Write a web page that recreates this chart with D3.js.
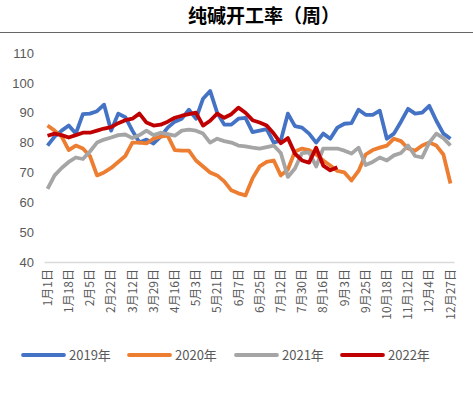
<!DOCTYPE html>
<html>
<head>
<meta charset="utf-8">
<script src="https://cdnjs.cloudflare.com/ajax/libs/d3/7.8.5/d3.min.js"></script>
<style>
  body { margin: 0; background: #fff; }
  text { font-family: "Noto Sans CJK SC", "Liberation Sans", sans-serif; }
</style>
</head>
<body>
<div id="chart"></div>
<script>
var categories = [
  "1月1日","1月7日","1月12日","1月18日","1月24日","1月30日","2月5日","2月11日","2月16日","2月22日",
  "2月28日","3月6日","3月12日","3月18日","3月23日","3月29日","4月4日","4月10日","4月16日","4月22日",
  "4月27日","5月3日","5月9日","5月15日","5月21日","5月27日","6月1日","6月7日","6月13日","6月19日",
  "6月25日","7月1日","7月6日","7月12日","7月18日","7月24日","7月30日","8月5日","8月10日","8月16日",
  "8月22日","8月28日","9月3日","9月10日","9月17日","9月25日","10月3日","10月10日","10月18日","10月26日",
  "11月3日","11月12日","11月19日","11月27日","12月4日","12月12日","12月19日","12月27日"
];
var tickLabels = ["1月1日","1月18日","2月5日","2月22日","3月12日","3月29日","4月16日","5月3日","5月21日","6月7日",
  "6月25日","7月12日","7月30日","8月16日","9月3日","9月25日","10月18日","11月12日","12月4日","12月27日"];
var yTicks = [40, 50, 60, 70, 80, 90, 100, 110];

var s2019 = [79,82,84,85.7,83,89.5,89.7,90.5,92.7,84,89.7,88.5,84,80,81,79.7,82,85,87,88,
  91,88,94.7,97.3,90,86,86,88,88.3,83.5,84,84.5,80,80.7,89.7,85.5,85,83,80,83,
  81.3,85,86.3,86.5,91,89.3,89.3,90.7,81.3,83,87,91.3,89.7,90,92.3,87.3,83,81.3];
var s2020 = [85.7,84,82,77.5,79,78,75.5,69,70,71.5,73.5,75.5,80,80,79.7,81.3,82,82.3,77.5,77.3,
  77.3,74,72,70,69,67,64,63,62.3,68,72,73.5,74,69,71,77,78,77.5,76,74,
  72.3,70.5,70,67.3,70.5,76,77.5,78.3,79,81.3,80.5,78,77.3,79,80,79,76,66.3];
var s2021 = [64.5,69,71.5,73.5,75,74.5,77,80,81,81.7,82.5,82.7,81.5,82.5,84,82.5,83.3,82.8,82.3,84,
  84.3,84,83,80,81.3,80.5,80,79,78.7,78.3,78,78.5,79,76.5,68.5,71.3,76.5,76.7,72,78,
  78,78,77.3,76.3,78.3,72.5,73.5,75,74,75.7,76.5,79,75.5,75,80,83,81.5,79];
var s2022 = [82.3,83,82.5,81.7,82.5,83.3,83.3,84,84.7,85.2,86.5,87.5,88,89.7,86.7,85.7,86,87,88.3,89,
  89.5,90,85.7,87.3,89.7,88.3,89.5,91.7,90,87.5,86.7,85.7,83,79.8,81.5,76.3,74,73.3,78.3,72.3,
  70.7,71.7];

var seriesNames = ["2019年", "2020年", "2021年", "2022年"];
var seriesColors = ["#4472C4", "#ED7D31", "#A5A5A5", "#C00000"];
var seriesData = [s2019, s2020, s2021, s2022];

var W = 473, H = 395;
var margin = {top: 53, right: 20, bottom: 133, left: 44};
var width = W - margin.left - margin.right,
    height = H - margin.top - margin.bottom;

var svg = d3.select("#chart").append("svg")
  .attr("width", W)
  .attr("height", H);

// title + rule under it
svg.append("text")
  .attr("x", 264).attr("y", 23)
  .attr("text-anchor", "middle")
  .style("font-size", "19px").style("font-weight", "bold")
  .style("fill", "#000")
  .text("纯碱开工率（周）");
svg.append("line")
  .attr("x1", 0).attr("x2", W).attr("y1", 32.5).attr("y2", 32.5)
  .attr("stroke", "#666").attr("stroke-width", 1.2);

var g = svg.append("g")
  .attr("transform", "translate(" + margin.left + "," + margin.top + ")");

var xScale = d3.scaleBand().domain(categories).range([0, 410]).padding(0);
var yScale = d3.scaleLinear().domain([40, 110]).range([209, 0]);
var xc = function(i) { return xScale(categories[i]) + xScale.bandwidth() / 2; };

// y axis labels
var yAxis = d3.axisLeft(yScale).tickValues(yTicks).tickSize(0).tickPadding(10);
var ya = g.append("g").call(yAxis);
ya.select(".domain").remove();
ya.selectAll("text").style("font-size", "13px").style("fill", "#595959")
  .style("font-family", "Liberation Sans, Arial, sans-serif");

// x axis
var xAxis = d3.axisBottom(xScale).tickValues(tickLabels).tickSize(0);
var xa = g.append("g").attr("transform", "translate(0," + yScale(40) + ")").call(xAxis);
xa.select(".domain").attr("stroke", "#d9d9d9").attr("stroke-width", 1.3);
xa.selectAll("text")
  .style("font-size", "12px").style("fill", "#595959")
  .attr("transform", "rotate(-90)")
  .attr("text-anchor", "end")
  .attr("x", -7).attr("y", 0).attr("dy", "0.35em");

// lines
var line = d3.line()
  .x(function(d, i) { return xc(i); })
  .y(function(d) { return yScale(d); });

seriesData.forEach(function(s, k) {
  g.append("path")
    .datum(s)
    .attr("fill", "none")
    .attr("stroke", seriesColors[k])
    .attr("stroke-width", 3.8)
    .attr("stroke-linejoin", "round")
    .attr("d", line);
});

// legend
var legendX = [23, 129, 236, 342];
var leg = svg.append("g").attr("transform", "translate(0,355)");
seriesNames.forEach(function(n, k) {
  leg.append("line")
    .attr("x1", legendX[k]).attr("x2", legendX[k] + 41)
    .attr("y1", 0).attr("y2", 0)
    .attr("stroke", seriesColors[k]).attr("stroke-width", 3.8)
    .attr("stroke-linecap", "round");
  leg.append("text")
    .attr("x", legendX[k] + 46).attr("y", 5)
    .style("font-size", "13px").style("fill", "#595959")
    .text(n);
});
</script>
</body>
</html>
